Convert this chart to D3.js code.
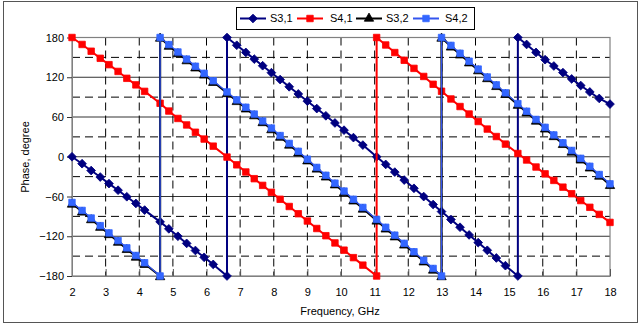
<!DOCTYPE html>
<html><head><meta charset="utf-8">
<script src="https://cdn.jsdelivr.net/npm/d3@7"></script>
<style>
body{margin:0;background:#fff}
svg{display:block}
text{font-family:"Liberation Sans",Arial,sans-serif;fill:#000}
</style>
</head><body>
<svg id="c" width="641" height="327"></svg>
<script>
// ---- data ----
const freq = [2.00,2.30,2.57,2.84,3.10,3.37,3.63,3.90,4.16,4.62,4.88,5.15,5.41,5.67,5.93,6.20,6.61,6.90,7.17,7.42,7.67,7.93,8.19,8.46,8.73,9.00,9.28,9.55,9.82,10.09,10.37,10.65,11.06,11.33,11.60,11.88,12.17,12.46,12.74,12.99,13.27,13.54,13.81,14.08,14.35,14.62,14.89,15.26,15.52,15.80,16.07,16.33,16.60,16.86,17.13,17.40,17.68,18.00];
// a pair [a,b] marks a phase wrap at that frequency (drawn as a vertical jump)
const s31 = [0,-10.5,-20.8,-30.6,-40.5,-50.5,-60.4,-70.5,-80.5,-98.3,-108.8,-120,-130.8,-141.5,-151.8,-162.5,[-180,180],168.3,157.5,147.4,137.4,126.9,116.5,105.6,94.8,83.9,72.7,61.8,51,40.1,28.9,17.6,0,-11.6,-23.2,-35.2,-47.6,-60.1,-72.1,-82.8,-94.8,-106.4,-118,-129.6,-141.2,-152.8,-164.4,[-180,180],169.5,157.5,146.5,137,127,117.5,107.5,97.8,88,79.5];
const s41 = [180,169.5,159.3,148.6,139,128.8,118.4,108.5,98.7,80.7,69,57.8,48,37,26.7,16,-0.5,-12.2,-23,-33.1,-43.2,-53.7,-64.2,-75.1,-86,-97,-108.3,-119.2,-130.1,-141,-152.3,-163.6,[-180,180],168.7,157.3,145.6,133.4,121.2,109.4,98.9,87.2,75.8,64.5,53.2,41.8,30.5,19.1,4.9,-4.9,-15.5,-25.8,-35.7,-45.9,-55.8,-66.1,-76.3,-87,-99.1];
const s32 = [-70.5,-82.5,-94,-105.5,-116.5,-128,-139,-150.5,-161.5,[-180,180],167.8,156.6,145.9,135.1,124.4,113.2,96.3,84.3,73.2,62.9,52.5,41.8,30.5,18.6,6.7,-5.2,-17.6,-29.5,-41.4,-53.3,-65.7,-78,-96.1,-108,-119.9,-132.2,-144.9,-157.7,-170.1,[-180,180],166.6,154.7,142.7,130.8,118.9,107,95,78.7,67.2,54.8,42.9,31.4,19.5,8,-3.9,-15.9,-28.3,-42.4];
const s42 = [-69,-81,-92.5,-104,-115,-126.5,-137.5,-149,-160,[-180,180],169.3,158.1,147.4,136.6,125.9,114.7,97.8,85.8,74.7,64.4,54,43.3,32,20.1,8.2,-3.7,-16.1,-28,-39.9,-51.8,-64.2,-76.5,-94.6,-106.5,-118.4,-130.7,-143.4,-156.2,-168.6,[-180,180],168.1,156.2,144.2,132.3,120.4,108.5,96.5,80.2,68.7,56.3,44.4,32.9,21,9.5,-2.4,-14.4,-26.8,-40.9];
const seriesNames = ["S3,1","S4,1","S3,2","S4,2"];
const xTicks = [2,3,4,5,6,7,8,9,10,11,12,13,14,15,16,17,18];
const yTicks = [-180,-120,-60,0,60,120,180];
const yMinor = [-150,-90,-30,30,90,150];
const xTitle = "Frequency, GHz";
const yTitle = "Phase, degree";

// ---- styles ----
const styles = [
  {data:s31, color:"#000080", lineColor:"#000080", shape:"diamond", lw:2},
  {data:s41, color:"#FF0000", lineColor:"#FF0000", shape:"square", lw:2},
  {data:s32, color:"#000000", lineColor:"#000000", shape:"triangle", lw:2.2},
  {data:s42, color:"#3366FF", lineColor:"#3355EE", shape:"square", lw:1.3}
];

const svg = d3.select("#c");
svg.append("rect").attr("width",641).attr("height",327).attr("fill","#fff");
svg.append("rect").attr("x",3.5).attr("y",1.5).attr("width",634).attr("height",321)
  .attr("fill","none").attr("stroke","#555").attr("stroke-width",1);

const L=72, R=610, T=37.5, B=276;
const x = d3.scaleLinear().domain([2,18]).range([L,R]);
const y = d3.scaleLinear().domain([-180,180]).range([B,T]);

const grid = svg.append("g");
grid.selectAll("line.hm").data(yMinor).join("line")
  .attr("x1",L).attr("x2",R).attr("y1",d=>y(d)).attr("y2",d=>y(d))
  .attr("stroke","#000").attr("stroke-width",1).attr("stroke-dasharray","8,5");
grid.selectAll("line.hM").data(yTicks.filter(d=>Math.abs(d)<180)).join("line")
  .attr("x1",L).attr("x2",R).attr("y1",d=>y(d)).attr("y2",d=>y(d))
  .attr("stroke","#333").attr("stroke-width",1);
grid.selectAll("line.v").data(xTicks.filter(d=>d>2&&d<18)).join("line")
  .attr("x1",d=>x(d)).attr("x2",d=>x(d)).attr("y1",T).attr("y2",B)
  .attr("stroke","#000").attr("stroke-width",1).attr("stroke-dasharray","8,5");
svg.append("rect").attr("x",L).attr("y",T).attr("width",R-L).attr("height",B-T)
  .attr("fill","none").attr("stroke","#808080").attr("stroke-width",1.2);

const xAxis = svg.append("g").attr("transform",`translate(0,${B})`)
  .call(d3.axisBottom(x).tickValues(xTicks).tickSize(-7).tickPadding(12).tickSizeOuter(0).tickFormat(d3.format("d")));
xAxis.select(".domain").attr("stroke","#808080");
xAxis.selectAll(".tick line").attr("stroke","#555");
xAxis.selectAll("text").attr("font-size",11).attr("fill","#111").style("font-family","'Liberation Sans',Arial,sans-serif");

const yAxis = svg.append("g").attr("transform",`translate(${L},0)`)
  .call(d3.axisLeft(y).tickValues(yTicks).tickSize(5).tickPadding(3).tickSizeOuter(0).tickFormat(d3.format("d")));
yAxis.select(".domain").attr("stroke","#808080");
yAxis.selectAll(".tick line").attr("stroke","#333");
yAxis.selectAll("text").attr("font-size",11).attr("fill","#111").style("font-family","'Liberation Sans',Arial,sans-serif");

svg.append("text").attr("x",340).attr("y",315).attr("text-anchor","middle")
  .attr("font-size",11).text(xTitle);
svg.append("text").attr("transform","translate(29,157) rotate(-90)").attr("text-anchor","middle")
  .attr("font-size",11).text(yTitle);

function symPath(shape){
  if(shape==="diamond") return d3.symbol().type(d3.symbolSquare).size(38)();
  if(shape==="triangle") return d3.symbol().type(d3.symbolTriangle).size(38)();
  return d3.symbol().type(d3.symbolSquare).size(42)();
}
function rot(shape){ return shape==="diamond" ? " rotate(45)" : ""; }

const line = d3.line().x(d=>x(d.f)).y(d=>y(d.p));
const plot = svg.append("g");
styles.forEach(s=>{
  const pts = freq.flatMap((f,i)=>{
    const v = s.data[i];
    return Array.isArray(v) ? v.map(p=>({f,p})) : [{f,p:v}];
  });
  plot.append("path").datum(pts).attr("d",line).attr("fill","none")
    .attr("stroke",s.lineColor).attr("stroke-width",s.lw).attr("stroke-linejoin","round");
  const dy = s.shape==="triangle" ? 1 : 0;
  plot.append("g").selectAll("path").data(pts).join("path")
    .attr("d",symPath(s.shape))
    .attr("transform",d=>`translate(${x(d.f)},${y(d.p)+dy})${rot(s.shape)}`)
    .attr("fill",s.color).attr("stroke",s.color).attr("stroke-width",0.8);
});

const lg = svg.append("g");
lg.append("rect").attr("x",236.5).attr("y",7.5).attr("width",238).attr("height",22)
  .attr("fill","#fff").attr("stroke","#000").attr("stroke-width",1);
const lineStarts = [240,297,356,413];
const textStarts = [270,330,386,445];
seriesNames.forEach((n,i)=>{
  const s = styles[i];
  const x0 = lineStarts[i], x1 = x0+26, cy = 18.5;
  lg.append("line").attr("x1",x0).attr("x2",x1).attr("y1",cy).attr("y2",cy)
    .attr("stroke",s.lineColor).attr("stroke-width",2);
  lg.append("path").attr("d",symPath(s.shape))
    .attr("transform",`translate(${(x0+x1)/2},${cy})${rot(s.shape)}`)
    .attr("fill",s.color).attr("stroke",s.color).attr("stroke-width",0.8);
  lg.append("text").attr("x",textStarts[i]).attr("y",cy).attr("dy","0.35em")
    .attr("font-size",11).text(n);
});
</script>
</body></html>
